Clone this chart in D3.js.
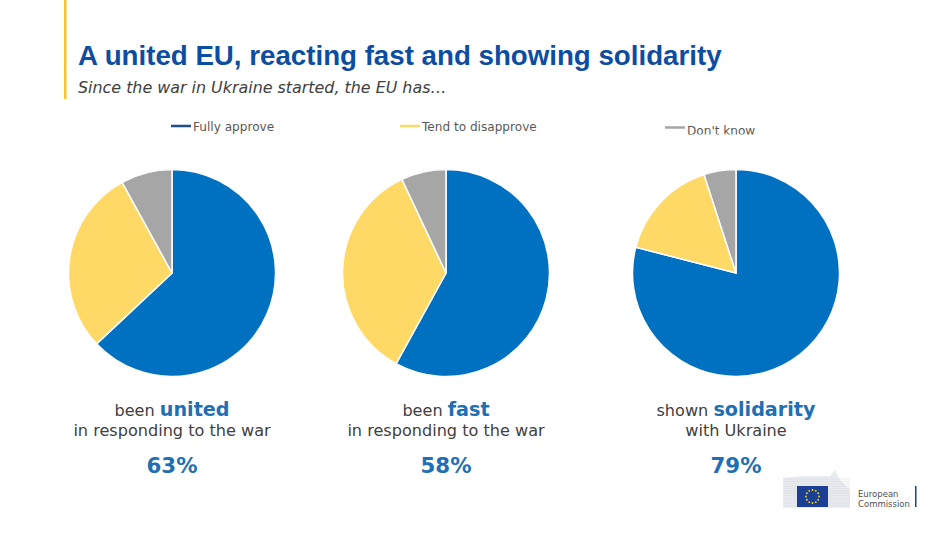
<!DOCTYPE html>
<html>
<head>
<meta charset="utf-8">
<script src="https://cdn.jsdelivr.net/npm/d3@7"></script>
<style>
  body { margin: 0; background: #fff; }
  svg { display: block; }
</style>
</head>
<body>
<div id="chart"></div>
<script>
const svgWidth = 952;
const svgHeight = 536;

// data
const series = ["Fully approve", "Tend to disapprove", "Don't know"];
const seriesColors = ["#0070C0", "#FFD966", "#A6A6A6"];
const legendColors = ["#1F4E8C", "#FFD966", "#A6A6A6"];
const questions = ["united", "fast", "solidarity"];
const leadWords = ["been", "been", "shown"];
const secondLines = ["in responding to the war", "in responding to the war", "with Ukraine"];
const fullyApprove = [63, 58, 79];
const tendDisapprove = [29, 35, 16];
const dontKnow = [8, 7, 5];

const sans = "'DejaVu Sans', Verdana, sans-serif";

const svg = d3.select("#chart")
    .append("svg")
    .attr("width", svgWidth)
    .attr("height", svgHeight);

// yellow accent bar + title
svg.append("rect")
    .attr("x", 64).attr("y", 0)
    .attr("width", 2.5).attr("height", 99)
    .attr("fill", "#F4C430");

svg.append("text")
    .attr("x", 78).attr("y", 65)
    .attr("font-family", "'Liberation Sans', Arial, sans-serif")
    .attr("font-weight", "bold")
    .attr("font-size", 27.7)
    .attr("fill", "#0C4DA2")
    .text("A united EU, reacting fast and showing solidarity");

svg.append("text")
    .attr("x", 78).attr("y", 93)
    .attr("font-family", sans)
    .attr("font-style", "italic")
    .attr("font-size", 15.9)
    .attr("fill", "#404040")
    .text("Since the war in Ukraine started, the EU has…");

// legend (last item is clipped in the original)
svg.append("clipPath").attr("id", "legendClip")
    .append("rect").attr("x", 0).attr("y", 110).attr("width", svgWidth).attr("height", 24.5);

const legendX = [171, 400, 665];
const legendY = [126, 126, 127.5];
const legendTextY = [131, 131, 135];

const legend = svg.append("g").attr("clip-path", "url(#legendClip)")
    .selectAll(".legend")
    .data(series)
    .enter().append("g")
    .attr("class", "legend");

legend.append("line")
    .attr("x1", (d, i) => legendX[i])
    .attr("x2", (d, i) => legendX[i] + 20)
    .attr("y1", (d, i) => legendY[i])
    .attr("y2", (d, i) => legendY[i])
    .attr("stroke", (d, i) => legendColors[i])
    .attr("stroke-width", 2.5);

legend.append("text")
    .attr("x", (d, i) => legendX[i] + 22)
    .attr("y", (d, i) => legendTextY[i])
    .attr("font-family", sans)
    .attr("font-size", 12.1)
    .attr("fill", "#595959")
    .text(d => d);

// pies
const centers = d3.scaleOrdinal()
    .domain(questions)
    .range([172, 446, 736]);

const color = d3.scaleOrdinal().domain(series).range(seriesColors);
const pie = d3.pie().sort(null).value(d => d.value);
const arc = d3.arc().innerRadius(0).outerRadius(103.5);

const groups = svg.selectAll(".pie")
    .data(questions)
    .enter().append("g")
    .attr("class", "pie")
    .attr("transform", d => "translate(" + centers(d) + ",273)");

groups.selectAll("path")
    .data((d, i) => pie([
        { category: series[0], value: fullyApprove[i] },
        { category: series[1], value: tendDisapprove[i] },
        { category: series[2], value: dontKnow[i] }
    ]))
    .enter().append("path")
    .attr("d", arc)
    .attr("fill", d => color(d.data.category))
    .attr("stroke", "#fff")
    .attr("stroke-width", 1.5);

// captions under each pie
const cap1 = groups.append("text")
    .attr("y", 143)
    .attr("text-anchor", "middle")
    .attr("font-family", sans);
cap1.append("tspan")
    .attr("font-size", 16.1)
    .attr("fill", "#404040")
    .text((d, i) => leadWords[i] + " ");
cap1.append("tspan")
    .attr("font-size", 19.2)
    .attr("font-weight", "bold")
    .attr("fill", "#1F6FB5")
    .text(d => d);

groups.append("text")
    .attr("y", 163)
    .attr("text-anchor", "middle")
    .attr("font-family", sans)
    .attr("font-size", 16.1)
    .attr("fill", "#404040")
    .text((d, i) => secondLines[i]);

groups.append("text")
    .attr("y", 200)
    .attr("text-anchor", "middle")
    .attr("font-family", sans)
    .attr("font-size", 21.3)
    .attr("font-weight", "bold")
    .attr("fill", "#1F6FB5")
    .text((d, i) => fullyApprove[i] + "%");

// European Commission logo
const logo = svg.append("g");
logo.append("path")
    .attr("d", "M783,508 L783,478 L800,476 L830,476 L835,470 L840,480 L850,490 L850,508 Z")
    .attr("fill", "#E9ECEF");
for (let k = 0; k < 12; k++) {
    logo.append("line")
        .attr("x1", 784).attr("x2", 850)
        .attr("y1", 479 + k * 2.4).attr("y2", 479 + k * 2.4)
        .attr("stroke", "#D5DAE0").attr("stroke-width", 0.6);
}
logo.append("rect")
    .attr("x", 797).attr("y", 486).attr("width", 31).attr("height", 21)
    .attr("fill", "#1B3F94");
d3.range(12).forEach(k => {
    const a = k * Math.PI / 6;
    logo.append("circle")
        .attr("cx", 812.5 + 6.5 * Math.sin(a))
        .attr("cy", 496.5 - 6.5 * Math.cos(a))
        .attr("r", 0.9)
        .attr("fill", "#FFDD00");
});
logo.append("text")
    .attr("x", 858).attr("y", 497)
    .attr("font-family", sans)
    .attr("font-size", 8.5).attr("fill", "#505050")
    .text("European");
logo.append("text")
    .attr("x", 858).attr("y", 507)
    .attr("font-family", sans)
    .attr("font-size", 8.5).attr("fill", "#505050")
    .text("Commission");
logo.append("rect")
    .attr("x", 915).attr("y", 486).attr("width", 1.5).attr("height", 21)
    .attr("fill", "#1B3F94");
</script>
</body>
</html>
